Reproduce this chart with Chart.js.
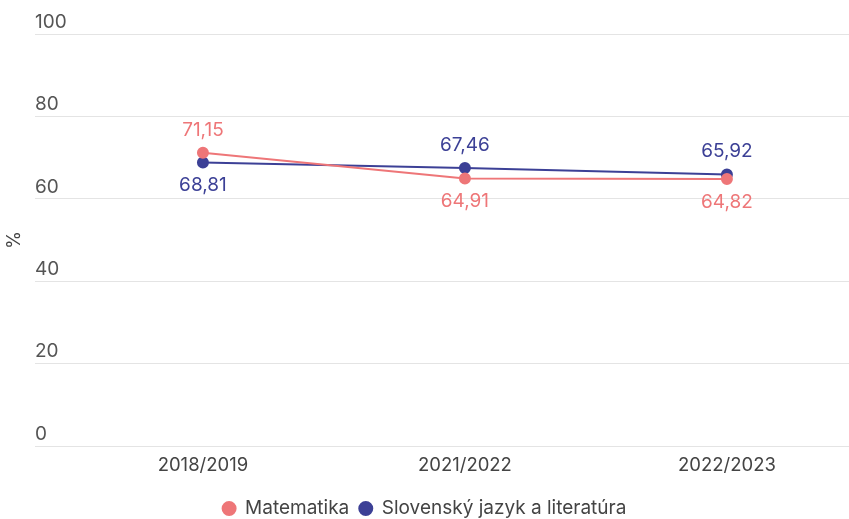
<!DOCTYPE html>
<html>
<head>
<meta charset="utf-8">
<script src="https://cdn.jsdelivr.net/npm/chart.js@4"></script>
<style>
  html, body { margin: 0; padding: 0; background: #fff; }
  #wrap { width: 849px; height: 519px; }
</style>
</head>
<body>
<div id="wrap"><canvas id="chartCanvas"></canvas></div>
<script>
var years = ['2018/2019', '2021/2022', '2022/2023'];
var matematika = [71.15, 64.91, 64.82];
var slovencina = [68.81, 67.46, 65.92];
var yTicks = [0, 20, 40, 60, 80, 100];

var pink = 'rgb(238, 118, 120)';
var navy = 'rgb(60, 64, 150)';
var fontFamily = 'Inter, "Noto Sans", sans-serif';

function toPoints(values) {
  return values.map(function (v, i) { return { x: i, y: v }; });
}

// labels above the higher point, below the lower one
var valueLabels = {
  id: 'valueLabels',
  afterDatasetsDraw: function (chart) {
    var ctx = chart.ctx;
    var sets = chart.data.datasets;
    ctx.save();
    ctx.font = '19px ' + fontFamily;
    ctx.textAlign = 'center';
    ctx.textBaseline = 'middle';
    sets.forEach(function (ds, di) {
      var meta = chart.getDatasetMeta(di);
      var other = sets[1 - di].data;
      meta.data.forEach(function (pt, i) {
        var v = ds.data[i].y;
        var above = v >= other[i].y;
        ctx.fillStyle = ds.borderColor;
        ctx.fillText(v.toFixed(2).replace('.', ','), pt.x, pt.y + (above ? -23 : 23));
      });
    });
    ctx.restore();
  }
};

var ctx = document.getElementById('chartCanvas').getContext('2d');
var chart = new Chart(ctx, {
  type: 'line',
  data: {
    datasets: [{
      label: 'Matematika',
      data: toPoints(matematika),
      borderColor: pink,
      backgroundColor: pink,
      borderWidth: 2,
      pointRadius: 5,
      pointHoverRadius: 5,
      fill: false
    }, {
      label: 'Slovenský jazyk a literatúra',
      data: toPoints(slovencina),
      borderColor: navy,
      backgroundColor: navy,
      borderWidth: 2,
      pointRadius: 5,
      pointHoverRadius: 5,
      fill: false
    }]
  },
  options: {
    responsive: true,
    maintainAspectRatio: false,
    animation: false,
    layout: { autoPadding: false, padding: { top: 34, right: 0, bottom: -9, left: 0 } },
    plugins: {
      tooltip: { enabled: false },
      legend: {
        position: 'bottom',
        labels: {
          usePointStyle: true,
          pointStyle: 'circle',
          boxWidth: 13,
          boxHeight: 9.2,
          padding: 10,
          color: '#444',
          font: { family: fontFamily, size: 19 }
        }
      }
    },
    scales: {
      x: {
        type: 'linear',
        min: -0.641,
        max: 2.466,
        afterBuildTicks: function (scale) {
          scale.ticks = years.map(function (y, i) { return { value: i }; });
        },
        afterFit: function (scale) {
          scale.paddingLeft = 0;
          scale.paddingRight = 0;
          scale.height = 43;
        },
        grid: { display: false },
        border: { display: false },
        ticks: {
          padding: 0,
          color: '#444',
          font: { family: fontFamily, size: 18.5 },
          callback: function (v) { return years[v]; }
        }
      },
      y: {
        min: 0,
        max: 100,
        afterBuildTicks: function (scale) {
          scale.ticks = yTicks.map(function (v) { return { value: v }; });
        },
        afterFit: function (scale) { scale.width = 35; },
        grid: { color: '#e4e4e4', drawTicks: false },
        border: { display: false },
        title: {
          display: true,
          text: '%',
          color: '#444',
          padding: { top: 4, bottom: 0 },
          font: { family: fontFamily, size: 18 }
        },
        ticks: {
          mirror: true,
          padding: 0,
          labelOffset: -12,
          color: '#555',
          font: { family: fontFamily, size: 19 }
        }
      }
    }
  },
  plugins: [valueLabels]
});
</script>
</body>
</html>
